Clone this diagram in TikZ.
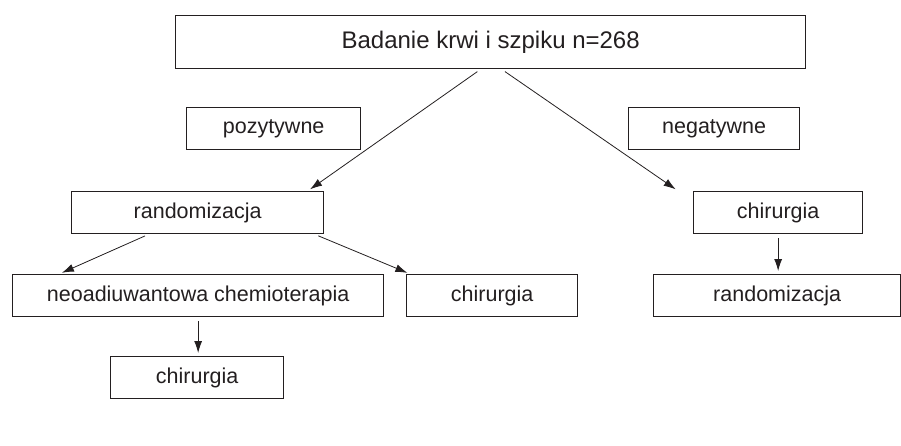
\documentclass[tikz,border=0pt]{standalone}
\usepackage{fontspec}
\setmainfont{Liberation Sans}
\usetikzlibrary{arrows.meta,positioning}
\definecolor{ink}{HTML}{231F20}
\tikzset{
  box/.style={draw=ink, line width=1.3pt, text=ink, inner sep=0pt, anchor=north west,
    font=\fontsize{21.5}{24}\selectfont},
  arr/.style={draw=ink, line width=0.8pt, -{Latex[length=12pt,width=8pt]}, shorten <=4pt, shorten >=3pt}
}
\begin{document}
\begin{tikzpicture}[x=1pt,y=-1pt]
\useasboundingbox (0,0) rectangle (901,445);
\node[box, minimum width=630pt, minimum height=53pt, font=\fontsize{24}{26}\selectfont] (top) at (175,15) {Badanie krwi i szpiku n=268};
\node[box, minimum width=174pt, minimum height=42pt] (poz) at (186,107) {pozytywne};
\node[box, minimum width=171pt, minimum height=42pt] (neg) at (628,107) {negatywne};
\node[box, minimum width=252pt, minimum height=42pt] (randL) at (71,191) {randomizacja};
\node[box, minimum width=169pt, minimum height=42pt] (chirR) at (693,191) {chirurgia};
\node[box, minimum width=371pt, minimum height=42pt] (neo) at (12,274) {neoadiuwantowa chemioterapia};
\node[box, minimum width=171pt, minimum height=42pt] (chirM) at (406,274) {chirurgia};
\node[box, minimum width=247pt, minimum height=42pt] (randR) at (653,274) {randomizacja};
\node[box, minimum width=173pt, minimum height=42pt] (chirB) at (110,356) {chirurgia};
\draw[arr] ([xshift=-10pt]top.south) -- ([xshift=110pt]randL.north);
\draw[arr] ([xshift=11pt]top.south) -- ([xshift=-100pt]chirR.north);
\draw[arr] ([xshift=-49pt]randL.south) -- ([xshift=-139pt]neo.north);
\draw[arr] ([xshift=117pt]randL.south) -- ([xshift=-82pt]chirM.north);
\draw[arr] (chirR.south) -- (chirR.south |- randR.north);
\draw[arr] (neo.south) -- (neo.south |- chirB.north);
\end{tikzpicture}
\end{document}
